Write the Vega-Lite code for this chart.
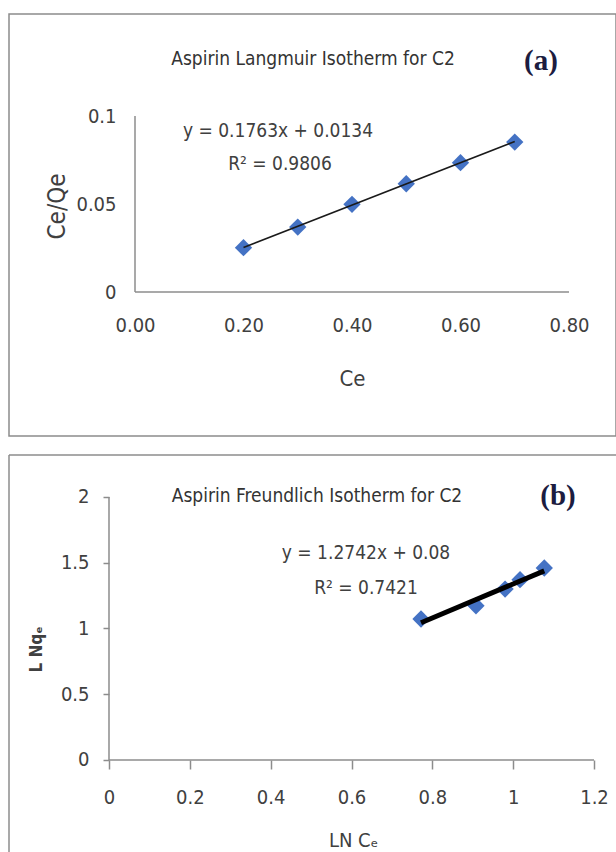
{
  "$schema": "https://vega.github.io/schema/vega-lite/v6.json",
  "padding": {"left": 8, "top": 13, "right": 0, "bottom": 0},
  "spacing": 17,
  "config": {
    "font": "Liberation Sans Narrow, DejaVu Sans Condensed, sans-serif",
    "axis": {"grid": false, "labelColor": "#404040", "titleColor": "#404040", "titleFontWeight": "normal", "labelFontSize": 20, "titleFontSize": 22, "labelFont": "Liberation Sans Narrow, DejaVu Sans Condensed, sans-serif", "titleFont": "Liberation Sans Narrow, DejaVu Sans Condensed, sans-serif"},
    "view": {"stroke": "#8c8c8c", "strokeWidth": 1.5},
    "text": {"font": "Liberation Sans Narrow, DejaVu Sans Condensed, sans-serif", "color": "#404040"}
  },
  "datasets": {
    "langmuir": [
      {"Ce": 0.2, "CeQe": 0.0252},
      {"Ce": 0.3, "CeQe": 0.0369},
      {"Ce": 0.4, "CeQe": 0.0498},
      {"Ce": 0.5, "CeQe": 0.0615},
      {"Ce": 0.6, "CeQe": 0.0735},
      {"Ce": 0.7, "CeQe": 0.0852}
    ],
    "freundlich": [
      {"lnCe": 0.772, "lnqe": 1.072},
      {"lnCe": 0.908, "lnqe": 1.173},
      {"lnCe": 0.98, "lnqe": 1.3},
      {"lnCe": 1.017, "lnqe": 1.371},
      {"lnCe": 1.077, "lnqe": 1.46}
    ]
  },
  "vconcat": [
    {
      "width": 607,
      "height": 422,
      "layer": [
        {
          "data": {"values": [{}]},
          "mark": {"type": "rule", "color": "#8c8c8c", "strokeWidth": 1.5},
          "encoding": {
            "x": {"datum": 0, "type": "quantitative"},
            "y": {"datum": 0, "type": "quantitative"},
            "y2": {"datum": 0.1}
          }
        },
        {
          "data": {"values": [{}]},
          "mark": {"type": "rule", "color": "#8c8c8c", "strokeWidth": 1.5},
          "encoding": {
            "y": {"datum": 0, "type": "quantitative"},
            "x": {"datum": 0, "type": "quantitative"},
            "x2": {"datum": 0.8}
          }
        },
        {
          "data": {"name": "langmuir"},
          "mark": {"type": "point", "shape": "diamond", "filled": true, "color": "#4472C4", "opacity": 1, "size": 300},
          "encoding": {
            "x": {"field": "Ce", "type": "quantitative", "title": "Ce",
              "scale": {"domain": [-0.23226, 0.88664], "nice": false, "zero": false},
              "axis": {"values": [0, 0.2, 0.4, 0.6, 0.8], "format": ".2f", "offset": -144, "domain": false, "ticks": false, "labelPadding": 23, "titleX": 343, "titleY": 86, "titleBaseline": "middle"}},
            "y": {"field": "CeQe", "type": "quantitative", "title": "Ce/Qe",
              "scale": {"domain": [-0.081818, 0.157955], "nice": false, "zero": false},
              "axis": {"values": [0, 0.05, 0.1], "format": "~g", "offset": -126, "domain": false, "ticks": false, "labelPadding": 19, "titleX": -78, "titleY": 192, "titleBaseline": "middle", "titleFontSize": 24}}
          }
        },
        {
          "data": {"name": "langmuir"},
          "transform": [{"regression": "CeQe", "on": "Ce"}],
          "mark": {"type": "line", "color": "#1a1a1a", "strokeWidth": 1.6},
          "encoding": {
            "x": {"field": "Ce", "type": "quantitative", "title": "Ce"},
            "y": {"field": "CeQe", "type": "quantitative", "title": "Ce/Qe"}
          }
        },
        {
          "data": {"values": [
            {"label": "y = 0.1763x + 0.0134", "px": 0.2636, "py": 0.0915},
            {"label": "R² = 0.9806", "px": 0.2673, "py": 0.0727}
          ]},
          "mark": {"type": "text", "fontSize": 19, "align": "center", "baseline": "middle"},
          "encoding": {
            "x": {"field": "px", "type": "quantitative", "title": "Ce"},
            "y": {"field": "py", "type": "quantitative", "title": "Ce/Qe"},
            "text": {"field": "label"}
          }
        },
        {
          "data": {"values": [{"label": "Aspirin Langmuir Isotherm for C2"}]},
          "mark": {"type": "text", "fontSize": 19, "align": "center", "baseline": "middle", "color": "#333333"},
          "encoding": {
            "x": {"datum": 0.3281, "type": "quantitative"},
            "y": {"datum": 0.1324, "type": "quantitative"},
            "text": {"field": "label"}
          }
        },
        {
          "data": {"values": [{"label": "(a)"}]},
          "mark": {"type": "text", "font": "Liberation Serif, DejaVu Serif, serif", "fontWeight": "bold", "fontSize": 29, "align": "center", "baseline": "middle", "color": "#1c1c40"},
          "encoding": {
            "x": {"datum": 0.7484, "type": "quantitative"},
            "y": {"datum": 0.1313, "type": "quantitative"},
            "text": {"field": "label"}
          }
        }
      ]
    },
    {
      "width": 607,
      "height": 399,
      "view": {"stroke": null},
      "layer": [
        {
          "data": {"values": [{}]},
          "mark": {"type": "rule", "color": "#8c8c8c", "strokeWidth": 1.5},
          "encoding": {
            "y": {"datum": 2.31939, "type": "quantitative"}
          }
        },
        {
          "data": {"values": [{}]},
          "mark": {"type": "rule", "color": "#8c8c8c", "strokeWidth": 1.5},
          "encoding": {
            "x": {"datum": -0.24742, "type": "quantitative"}
          }
        },
        {
          "data": {"values": [{}]},
          "mark": {"type": "rule", "color": "#8c8c8c", "strokeWidth": 1.5},
          "encoding": {
            "x": {"datum": 0, "type": "quantitative"},
            "y": {"datum": 0, "type": "quantitative"},
            "y2": {"datum": 2}
          }
        },
        {
          "data": {"values": [{}]},
          "mark": {"type": "rule", "color": "#8c8c8c", "strokeWidth": 1.5},
          "encoding": {
            "y": {"datum": 0, "type": "quantitative"},
            "x": {"datum": 0, "type": "quantitative"},
            "x2": {"datum": 1.2}
          }
        },
        {
          "data": {"name": "freundlich"},
          "mark": {"type": "point", "shape": "diamond", "filled": true, "color": "#4472C4", "opacity": 1, "size": 300},
          "encoding": {
            "x": {"field": "lnCe", "type": "quantitative", "title": "LN Cₑ",
              "scale": {"domain": [-0.24742, 1.25443], "nice": false, "zero": false},
              "axis": {"values": [0, 0.2, 0.4, 0.6, 0.8, 1, 1.2], "format": "~g", "offset": -94, "domain": false, "ticks": true, "tickSize": 9, "tickColor": "#8c8c8c", "tickWidth": 1.5, "labelPadding": 18, "titleX": 344, "titleY": 80, "titleBaseline": "middle", "titleFontSize": 20}},
            "y": {"field": "lnqe", "type": "quantitative", "title": "L Nqₑ",
              "scale": {"domain": [-0.71483, 2.31939], "nice": false, "zero": false},
              "axis": {"values": [0, 0.5, 1, 1.5, 2], "format": "~g", "offset": -100, "domain": false, "ticks": true, "tickSize": 6, "tickColor": "#8c8c8c", "tickWidth": 1.5, "labelPadding": 14, "titleX": -73, "titleY": 194, "titleBaseline": "middle", "titleFontSize": 17, "titleFontWeight": "bold"}}
          }
        },
        {
          "data": {"name": "freundlich"},
          "transform": [{"regression": "lnqe", "on": "lnCe"}],
          "mark": {"type": "line", "color": "#000000", "strokeWidth": 5},
          "encoding": {
            "x": {"field": "lnCe", "type": "quantitative", "title": "LN Cₑ"},
            "y": {"field": "lnqe", "type": "quantitative", "title": "L Nqₑ"}
          }
        },
        {
          "data": {"values": [
            {"label": "y = 1.2742x + 0.08", "px": 0.6359, "py": 1.5741},
            {"label": "R² = 0.7421", "px": 0.6359, "py": 1.308}
          ]},
          "mark": {"type": "text", "fontSize": 19, "align": "center", "baseline": "middle"},
          "encoding": {
            "x": {"field": "px", "type": "quantitative", "title": "LN Cₑ"},
            "y": {"field": "py", "type": "quantitative", "title": "L Nqₑ"},
            "text": {"field": "label"}
          }
        },
        {
          "data": {"values": [{"label": "Aspirin Freundlich Isotherm for C2"}]},
          "mark": {"type": "text", "fontSize": 19, "align": "center", "baseline": "middle", "color": "#333333"},
          "encoding": {
            "x": {"datum": 0.5146, "type": "quantitative"},
            "y": {"datum": 2.0076, "type": "quantitative"},
            "text": {"field": "label"}
          }
        },
        {
          "data": {"values": [{"label": "(b)"}]},
          "mark": {"type": "text", "font": "Liberation Serif, DejaVu Serif, serif", "fontWeight": "bold", "fontSize": 29, "align": "center", "baseline": "middle", "color": "#1c1c40"},
          "encoding": {
            "x": {"datum": 1.1109, "type": "quantitative"},
            "y": {"datum": 2.0076, "type": "quantitative"},
            "text": {"field": "label"}
          }
        }
      ]
    }
  ]
}
